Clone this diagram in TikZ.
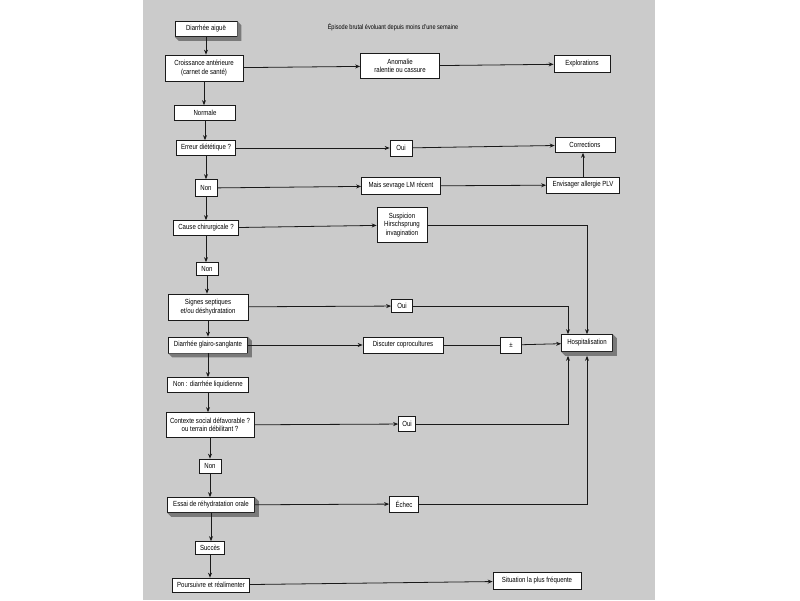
\documentclass[tikz,border=0pt]{standalone}
\usepackage{fontspec}
\setmainfont{Liberation Sans}[FakeStretch=0.82]
\usetikzlibrary{arrows.meta,calc,positioning}
\definecolor{pageF}{HTML}{CBCBCB}
\definecolor{shadF}{HTML}{7A7A7A}
\definecolor{lineC}{HTML}{1A1A1A}
\tikzset{
  box/.style={draw=lineC, fill=white, line width=0.7pt, align=center, inner sep=1pt,
              font=\fontsize{7.4}{8.4}\selectfont},
  wh/.style 2 args={minimum width=#1, minimum height=#2},
  arr/.style={-{Stealth[length=5pt,width=4pt]}, draw=lineC, line width=0.8pt},
  lnk/.style={draw=lineC, line width=0.8pt},
}

\begin{document}
\begin{tikzpicture}[x=1pt, y=-1pt]
\useasboundingbox (0,0) rectangle (800,600);
\fill[white] (0,0) rectangle (800,600);
\fill[pageF] (143,0) rectangle (655,600);
\node[font=\fontsize{6.8}{8}\selectfont] (T) at (393,27) {Épisode brutal évoluant depuis moins d'une semaine};
% main column
\node[box, wh={62}{15}] (D)  at (206,29)  {Diarrhée aiguë};
\node[box, wh={78}{26}] (C)  at (204,68)  {Croissance antérieure\\(carnet de santé)};
\node[box, wh={61}{15}] (N)  at (205,113) {Normale};
\node[box, wh={59}{15}] (R)  at (206,148) {Erreur diététique ?};
\node[box, wh={22}{17}] (N1) at (206,188) {Non};
\node[box, wh={65}{15}] (Q)  at (206,228) {Cause chirurgicale ?};
\node[box, wh={22}{13}] (N2) at (207,269) {Non};
\node[box, wh={80}{26}] (Y)  at (208,307) {Signes septiques\\et/ou déshydratation};
\node[box, wh={79}{16}] (G)  at (208,345) {Diarrhée glairo-sanglante};
\node[box, wh={81}{15}] (L)  at (208,385) {Non : diarrhée liquidienne};
\node[box, wh={88}{25}] (Z)  at (210,425) {Contexte social défavorable ?\\ou terrain débilitant ?};
\node[box, wh={22}{14}] (N3) at (210,466) {Non};
\node[box, wh={87}{15}] (E)  at (211,505) {Essai de réhydratation orale};
\node[box, wh={29}{13}] (B)  at (210,548) {Succès};
\node[box, wh={77}{14}] (W)  at (211,585) {Poursuivre et réalimenter};
% middle column
\node[box, wh={79}{25}] (A)  at (400,66)  {Anomalie\\ralentie ou cassure};
\node[box, wh={22}{16}] (O1) at (401,148) {Oui};
\node[box, wh={79}{17}] (S)  at (401,186) {Mais sevrage LM récent};
\node[box, wh={50}{35}] (P)  at (402,225) {Suspicion\\Hirschsprung\\invagination};
\node[box, wh={21}{13}] (O2) at (402,306) {Oui};
\node[box, wh={80}{16}] (U)  at (403,345) {Discuter coprocultures};
\node[box, wh={21}{16}] (M)  at (511,345) {±};
\node[box, wh={17}{15}] (O3) at (407,424) {Oui};
\node[box, wh={29}{16}] (F)  at (404,504) {Échec};
% right column
\node[box, wh={56}{17}] (X)  at (582,64)  {Explorations};
\node[box, wh={60}{15}] (K)  at (585,145) {Corrections};
\node[box, wh={73}{16}] (V)  at (583,185) {Envisager allergie PLV};
\node[box, wh={51}{17}] (H)  at (587,343) {Hospitalisation};
\node[box, wh={88}{17}] (I)  at (537,581) {Situation la plus fréquente};
% raised boxes
\foreach \n in {D,G,H,E}
  \fill[shadF] (\n.north east) -- ++(4,4) -- ($(\n.south east)+(4,4)$) -- ($(\n.south west)+(4,4)$)
    -- (\n.south west) -- (\n.south east) -- cycle;
% links
\foreach \a/\b in {D/C,C/N,N/R,R/N1,N1/Q,Q/N2,N2/Y,Y/G,G/L,L/Z,Z/N3,N3/E,E/B,B/W}
  \draw[arr] (\a.south) -- (\a.south |- \b.north);
\foreach \a/\b in {C/A,A/X,R/O1,O1/K,N1/S,S/V,Q/P,Y/O2,G/U,M/H,Z/O3,E/F,W/I}
  \draw[arr] (\a) -- (\b);
\draw[lnk] (U) -- (M);
\draw[arr] (V.north) -- (V.north |- K.south);
\draw[arr] (P.east) -| (H.north);
\draw[arr] (O2.east) -| ([xshift=-19pt]H.north);
\draw[arr] (O3.east) -| ([xshift=-19pt,yshift=-4pt]H.south);
\draw[arr] (F.east) -| ([yshift=-4pt]H.south);
\end{tikzpicture}
\end{document}
